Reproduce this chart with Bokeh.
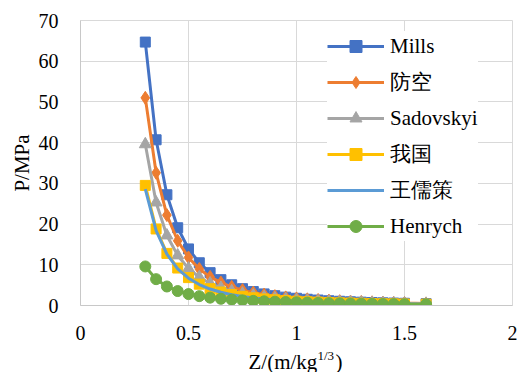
from bokeh.plotting import figure
from bokeh.models import Range1d, FixedTicker, Legend, LegendItem
from bokeh.layouts import column
from bokeh.core.properties import value
from bokeh.embed import file_html
from bokeh.resources import INLINE

z = [0.3, 0.35, 0.4, 0.45, 0.5, 0.55, 0.6, 0.65, 0.7, 0.75, 0.8, 0.85, 0.9,
     0.95, 1.0, 1.05, 1.1, 1.15, 1.2, 1.25, 1.3, 1.35, 1.4, 1.45, 1.5, 1.6]
mills = [64.7, 40.7, 27.2, 19.1, 13.9, 10.5, 8.07, 6.35, 5.09, 4.14, 3.42, 2.85, 2.41,
         2.05, 1.77, 1.53, 1.34, 1.17, 1.04, 0.92, 0.82, 0.74, 0.66, 0.60, 0.55, 0.46]
fangkong = [51.0, 32.6, 22.2, 15.9, 11.8, 8.98, 7.03, 5.62, 4.58, 3.78, 3.17, 2.69, 2.30,
            1.99, 1.74, 1.52, 1.35, 1.20, 1.07, 0.97, 0.87, 0.79, 0.72, 0.66, 0.61, 0.52]
sadovskyi = [39.6, 25.3, 17.2, 12.3, 9.09, 6.94, 5.43, 4.34, 3.53, 2.92, 2.44, 2.07, 1.77,
             1.53, 1.33, 1.17, 1.04, 0.92, 0.82, 0.74, 0.67, 0.61, 0.56, 0.51, 0.47, 0.40]
woguo = [29.5, 18.8, 12.8, 9.20, 6.85, 5.25, 4.13, 3.32, 2.71, 2.25, 1.89, 1.61, 1.39,
         1.20, 1.05, 0.93, 0.83, 0.74, 0.66, 0.60, 0.54, 0.49, 0.45, 0.42, 0.38, 0.33]
wangruce = [28.6, 18.4, 12.6, 9.02, 6.71, 5.15, 4.05, 3.25, 2.66, 2.21, 1.86, 1.58, 1.36,
            1.18, 1.03, 0.91, 0.81, 0.72, 0.65, 0.59, 0.53, 0.49, 0.44, 0.41, 0.38, 0.32]
henrych = [9.59, 6.47, 4.67, 3.55, 2.81, 2.30, 1.93, 1.65, 1.44, 1.27, 1.14, 1.03, 0.94,
           0.86, 0.80, 0.71, 0.64, 0.58, 0.53, 0.48, 0.44, 0.40, 0.37, 0.35, 0.32, 0.28]

series_names = ["Mills", "防空", "Sadovskyi", "我国", "王儒策", "Henrych"]
x_ticks = [0, 0.5, 1, 1.5, 2]
x_tick_labels = ["0", "0.5", "1", "1.5", "2"]
y_ticks = [0, 10, 20, 30, 40, 50, 60, 70]
x_title_parts = ["Z/(m/kg", "1/3", ")"]

FONT = "'Liberation Serif', serif"
GRID = "#D9D9D9"

p = figure(width=517, height=342, output_backend="svg", toolbar_location=None,
           title=None,
           x_range=Range1d(0, 2), y_range=Range1d(0, 70),
           min_border_left=80, min_border_right=5, min_border_top=20, min_border_bottom=37)
p.background_fill_color = "white"
p.border_fill_color = "white"
p.outline_line_color = GRID
p.outline_line_width = 1

p.xaxis.ticker = FixedTicker(ticks=x_ticks)
p.xaxis.major_label_overrides = {t: l for t, l in zip(x_ticks, x_tick_labels)}
p.yaxis.ticker = FixedTicker(ticks=y_ticks)
for ax in (p.xaxis, p.yaxis):
    ax.axis_line_color = "#C8C8C8"
    ax.major_tick_line_color = None
    ax.minor_tick_line_color = None
    ax.major_label_text_font = FONT
    ax.major_label_text_font_size = "20px"
    ax.major_label_text_color = "#000000"
p.xaxis.major_label_standoff = 14
p.yaxis.major_label_standoff = 16
p.yaxis.axis_label = "P/MPa"
p.yaxis.axis_label_text_font = FONT
p.yaxis.axis_label_text_font_size = "21px"
p.yaxis.axis_label_text_font_style = "normal"
p.yaxis.axis_label_text_color = "#000000"
p.yaxis.axis_label_standoff = 2

p.xgrid.grid_line_color = GRID
p.ygrid.grid_line_color = GRID

colors = ["#4472C4", "#ED7D31", "#A5A5A5", "#FFC000", "#5B9BD5", "#70AD47"]
markers = ["square", "diamond", "triangle", "square", None, "circle"]
sizes = [10, 13, 12, 10, 0, 11]
data = [mills, fangkong, sadovskyi, woguo, wangruce, henrych]

items = []
for name, col, mk, sz, ys in zip(series_names, colors, markers, sizes, data):
    rs = [p.line(z, ys, line_color=col, line_width=3)]
    if mk is not None:
        rs.append(p.scatter(z, ys, marker=mk, size=sz, fill_color=col, line_color=col))
    items.append(LegendItem(label=name, renderers=rs))

legend = Legend(items=items, location=(247, 64), orientation="vertical",
                label_text_font=FONT, label_text_font_size="21px",
                label_text_color="#000000",
                glyph_width=57, glyph_height=30, spacing=6, padding=4,
                label_standoff=6, border_line_color=None,
                background_fill_color="white", background_fill_alpha=1.0,
                margin=0)
p.add_layout(legend)

# x-axis title strip (with superscript), below the main figure; its frame is
# aligned with the main plot frame by the column layout, so it shares the x range
t = figure(width=517, height=30, output_backend="svg", toolbar_location=None,
           title=None,
           x_range=Range1d(0, 2), y_range=Range1d(0, 30),
           x_axis_location=None, y_axis_location=None,
           min_border=0, min_border_left=80, min_border_right=5,
           min_border_top=0, min_border_bottom=0)
t.outline_line_color = None
t.xgrid.visible = False
t.ygrid.visible = False
t.background_fill_color = "white"
t.border_fill_color = "white"
t.text(x=[0.7778, 1.1806], y=[11, 11], text=[x_title_parts[0], x_title_parts[2]],
       text_font=value(FONT), text_font_size="21px", text_color="#000000",
       text_baseline="alphabetic", text_align="left")
t.text(x=[1.0972], y=[17], text=[x_title_parts[1]],
       text_font=value(FONT), text_font_size="13px", text_color="#000000",
       text_baseline="alphabetic", text_align="left")

layout = column(p, t, spacing=0)
open("out.html", "w").write(file_html(layout, INLINE))
